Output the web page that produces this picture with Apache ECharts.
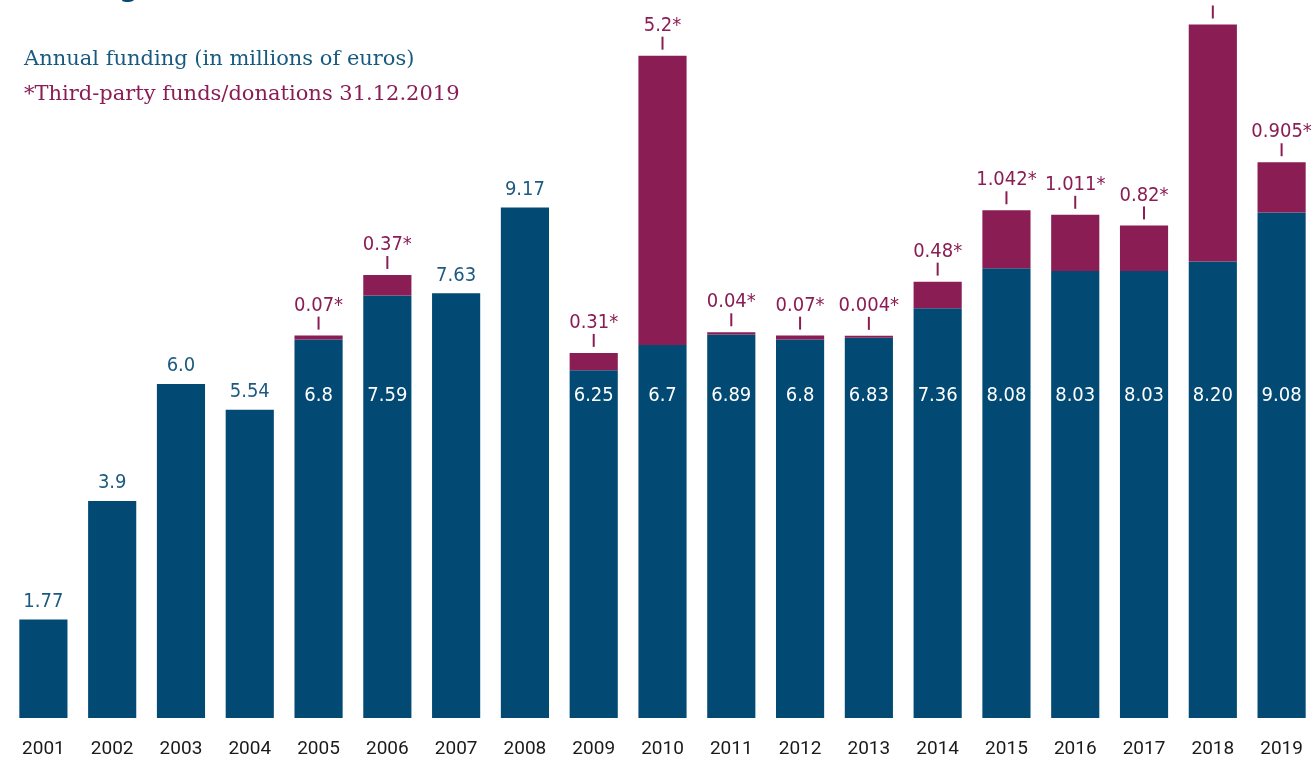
<!DOCTYPE html>
<html>
<head>
    <meta charset="utf-8" />
    <title>Annual funding</title>
    <script src="https://cdn.jsdelivr.net/npm/echarts@6/dist/echarts.min.js"></script>
    <style>
        html, body { margin: 0; padding: 0; background: #fff; }
        #chart { width: 1316px; height: 761px; }
    </style>
</head>
<body>
    <div id="chart"></div>

    <script type="text/javascript">
        // years and values
        var years = ['2001', '2002', '2003', '2004', '2005', '2006', '2007', '2008', '2009', '2010',
            '2011', '2012', '2013', '2014', '2015', '2016', '2017', '2018', '2019'];
        var annual = [1.77, 3.9, 6.0, 5.54, 6.8, 7.59, 7.63, 9.17, 6.25, 6.7,
            6.89, 6.8, 6.83, 7.36, 8.08, 8.03, 8.03, 8.20, 9.08];
        // '-' = no third-party funds that year (2018 label is cut off in the source, value estimated)
        var thirdParty = ['-', '-', '-', '-', 0.07, 0.37, '-', '-', 0.31, 5.2,
            0.04, 0.07, 0.004, 0.48, 1.042, 1.011, 0.82, 4.26, 0.905];
        // label text as printed
        var annualText = ['1.77', '3.9', '6.0', '5.54', '6.8', '7.59', '7.63', '9.17', '6.25', '6.7',
            '6.89', '6.8', '6.83', '7.36', '8.08', '8.03', '8.03', '8.20', '9.08'];

        var blue = '#024a74';
        var blueText = '#1d5a82';
        var red = '#8b1d55';
        var numFont = "'DejaVu Sans Condensed', 'Liberation Sans Narrow', Roboto, sans-serif";

        // base bars: label above when nothing is stacked on top, else white inside at fixed height
        var annualData = [];
        for (var i = 0; i < annual.length; i++) {
            var inside = thirdParty[i] !== '-';
            annualData.push({
                value: annual[i],
                label: inside ? {
                    position: 'insideBottom',
                    distance: 312,
                    color: '#ffffff'
                } : {
                    position: 'top',
                    distance: 8,
                    color: blueText
                }
            });
        }

        var myChart = echarts.init(document.getElementById('chart'));

        myChart.setOption({
            animation: false,
            grid: {
                left: 9,
                right: 0,
                top: 0,
                bottom: 43
            },
            graphic: [{
                // page title, cut off at the top of the picture
                type: 'text',
                left: 24,
                top: -27,
                style: {
                    text: 'Funding',
                    font: "bold 28px 'Noto Sans', sans-serif",
                    fill: blue
                }
            }, {
                type: 'text',
                left: 24,
                top: 49,
                style: {
                    text: 'Annual funding (in millions of euros)',
                    font: "21px 'DejaVu Serif', serif",
                    fill: '#175a80'
                }
            }, {
                type: 'text',
                left: 24,
                top: 84,
                style: {
                    text: '*Third-party funds/donations 31.12.2019',
                    font: "21px 'DejaVu Serif', serif",
                    fill: red
                }
            }],
            xAxis: {
                type: 'category',
                data: years,
                axisLine: { show: false },
                axisTick: { show: false },
                axisLabel: {
                    margin: 22,
                    fontSize: 19,
                    fontFamily: 'Roboto',
                    color: '#1a1a1a'
                }
            },
            yAxis: {
                type: 'value',
                min: 0,
                max: 12.9,
                show: false,
                splitLine: { show: false }
            },
            series: [{
                name: 'Annual funding',
                type: 'bar',
                stack: 'total',
                barWidth: '70%',
                itemStyle: { color: blue },
                label: {
                    show: true,
                    fontFamily: numFont,
                    fontSize: 20,
                    lineHeight: 20,
                    formatter: function (p) { return annualText[p.dataIndex]; }
                },
                data: annualData
            }, {
                name: 'Third-party funds',
                type: 'bar',
                stack: 'total',
                barWidth: '70%',
                barMinHeight: 2,
                clip: false,
                itemStyle: { color: red },
                label: {
                    show: true,
                    position: 'top',
                    distance: 6,
                    formatter: function (p) { return '{v|' + p.value + '*}\n{t| }'; },
                    rich: {
                        v: {
                            fontFamily: numFont,
                            fontSize: 20,
                            lineHeight: 22,
                            color: red
                        },
                        t: {
                            width: 2,
                            height: 13,
                            lineHeight: 13,
                            fontSize: 1,
                            backgroundColor: red
                        }
                    }
                },
                data: thirdParty
            }]
        });
    </script>
</body>
</html>
